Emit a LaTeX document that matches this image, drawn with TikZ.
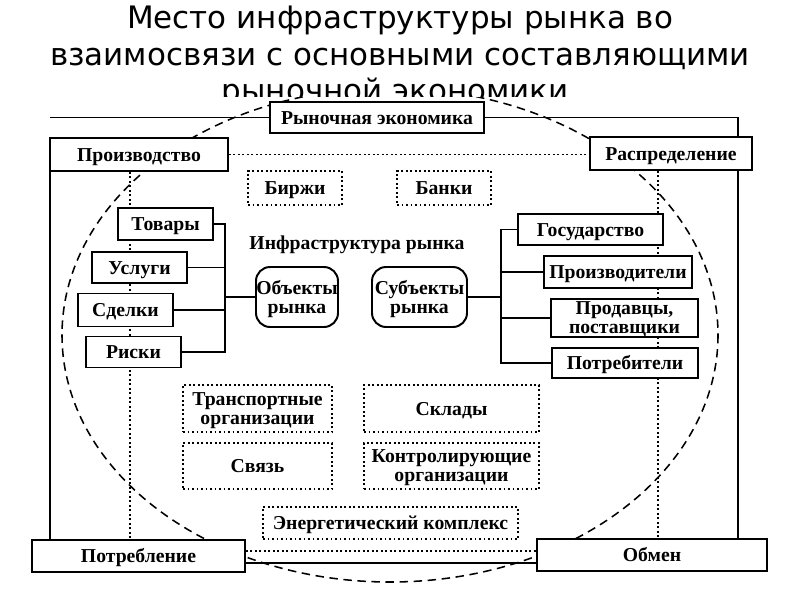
\documentclass[tikz,border=0pt]{standalone}
\usepackage{fontspec}
\setmainfont{Liberation Serif}
\newfontfamily\titlefont{DejaVu Sans}
\pgfdeclarelayer{bg}
\pgfsetlayers{bg,main}

\begin{document}
\begin{tikzpicture}[
  x=0.025cm, y=-0.025cm,
  every node/.style={font=\bfseries\fontsize{14}{13.5}\selectfont, inner sep=0pt, text height=9.5pt, text depth=0pt},
  wh/.style 2 args={minimum width={#1*0.025cm}, minimum height={#2*0.025cm}},
  box/.style={rectangle, draw, line width=1.4pt, fill=white},
  dotbox/.style={rectangle, draw, line width=1.2pt, dash pattern=on 1.2pt off 2pt, fill=white},
  roundbox/.style={box, rounded corners=10pt},
  twoline/.style={align=center, text height={}, text depth=0pt},
  link/.style={line width=1.2pt},
  thinlink/.style={line width=0.8pt},
  outerlink/.style={line width=1.8pt},
  dotlink/.style={line width=1.2pt, dash pattern=on 1.2pt off 2pt},
  heading/.style={font=\titlefont\fontsize{22}{26}\selectfont, anchor=base, text height={}, text depth={}}
]
\useasboundingbox (0,0) rectangle (800,600);
\begin{pgfonlayer}{bg}
\node[heading] (title1) at (400,28) {Место инфраструктуры рынка во};
\node[heading] (title2) at (400,65) {взаимосвязи с основными составляющими};
\node[heading] (title3) at (400,101) {рыночной экономики.};
\fill[white] (0,97) rectangle (800,600);
\begin{scope}
\clip (0,97) rectangle (800,600);
\draw[line width=1.1pt, dash pattern=on 6pt off 4pt] (390,335) ellipse [x radius=328, y radius=247];
\end{scope}
\end{pgfonlayer}

\node[box, wh={214}{31}] (rynok) at (377,117.5) {Рыночная экономика};
\node[box, wh={178}{33}] (proizv) at (139,154.5) {Производство};
\node[box, wh={162}{33}] (raspr) at (671,153.5) {Распределение};
\node[box, wh={213}{32}] (potreb) at (138.5,556) {Потребление};
\node[box, wh={230}{32}] (obmen) at (652,555) {Обмен};

\node[dotbox, wh={94}{34}] (birzhi) at (295,188) {Биржи};
\node[dotbox, wh={94}{34}] (banki) at (444,188) {Банки};
\node (infra) at (357,243) {Инфраструктура рынка};

\node[box, wh={95}{32}] (tovary) at (165.5,224) {Товары};
\node[box, wh={95}{31}] (uslugi) at (139.5,267.5) {Услуги};
\node[box, wh={95}{33}] (sdelki) at (125.5,310) {Сделки};
\node[box, wh={95}{31}] (riski) at (133.5,352) {Риски};

\node[roundbox, twoline, wh={82}{60}] (obj) at (297,297) {Объекты\\рынка};
\node[roundbox, twoline, wh={95}{60}] (subj) at (419.5,297) {Субъекты\\рынка};

\node[box, wh={145}{31}] (gos) at (590.5,229.5) {Государство};
\node[box, wh={148}{32}] (proizvoditeli) at (618,272) {Производители};
\node[box, twoline, wh={147}{38}] (prodavtsy) at (624.5,318) {Продавцы,\\поставщики};
\node[box, wh={146}{30}] (potrebiteli) at (625,363) {Потребители};

\node[dotbox, twoline, wh={149}{47}] (transp) at (257.5,408.5) {Транспортные\\организации};
\node[dotbox, wh={175}{47}] (sklady) at (451.5,408.5) {Склады};
\node[dotbox, wh={149}{46}] (svyaz) at (257.5,466) {Связь};
\node[dotbox, twoline, wh={175}{46}] (kontrol) at (451.5,466) {Контролирующие\\организации};
\node[dotbox, wh={255}{32}] (energ) at (390.5,523) {Энергетический комплекс};

\coordinate (outl) at (50,0);
\coordinate (outr) at (738,0);
\coordinate (innl) at (130,0);
\coordinate (innr) at (658,0);
\coordinate (solidy) at (0,563);
\coordinate (doty) at (0,551);
\coordinate (busl) at (225,297);
\coordinate (busr) at (501,297);

\begin{pgfonlayer}{bg}
\draw[thinlink] (rynok.west) -- (rynok.west -| outl);
\draw[thinlink] (rynok.east) -| (raspr.north -| outr);
\draw[outerlink] (proizv.south -| outl) -- (potreb.north -| outl);
\draw[outerlink] (raspr.south -| outr) -- (obmen.north -| outr);
\draw[thinlink] (potreb.east |- solidy) -- (obmen.west |- solidy);
\draw[dotlink] (proizv.east) -- (proizv.east -| raspr.west);
\draw[dotlink] (proizv.south -| innl) -- (potreb.north -| innl);
\draw[dotlink] (raspr.south -| innr) -- (obmen.north -| innr);
\draw[dotlink] (potreb.east |- doty) -- (obmen.west |- doty);

\draw[link] (tovary.east) -| (busl) |- (riski.east);
\draw[link] (uslugi.east) -- (uslugi.east -| busl);
\draw[link] (sdelki.east) -- (sdelki.east -| busl);
\draw[link] (busl) -- (obj.west);

\draw[link] (subj.east) -- (busr);
\draw[link] (gos.west) -| (busr) |- (potrebiteli.west);
\draw[link] (proizvoditeli.west) -- (proizvoditeli.west -| busr);
\draw[link] (prodavtsy.west) -- (prodavtsy.west -| busr);
\end{pgfonlayer}
\end{tikzpicture}
\end{document}
